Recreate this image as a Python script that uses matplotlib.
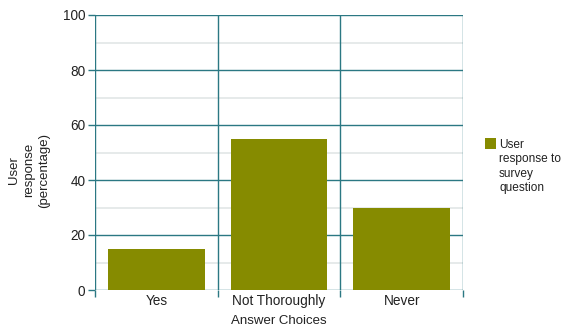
import matplotlib
matplotlib.use("Agg")
import matplotlib.pyplot as plt
from matplotlib.patches import Rectangle
import numpy as np

categories = ["Yes", "Not Thoroughly", "Never"]
values = [15, 55, 30]
series_name = "User\nresponse to\nsurvey\nquestion"
y_major = [0, 20, 40, 60, 80, 100]
y_minor = [10, 30, 50, 70, 90]

bar_color = "#868b00"
grid_color = "#2b7883"
minor_color = "#e1e6e6"
text_color = "#222222"

plt.rcParams["font.family"] = ["Liberation Sans", "DejaVu Sans"]

W, H = 572, 327
fig = plt.figure(figsize=(W / 100, H / 100), dpi=100)
ax = fig.add_axes([95 / W, 1 - 290 / H, 368 / W, 275 / H])

x = np.arange(len(categories))
ax.bar(x, values, width=0.79, color=bar_color, zorder=3)

ax.set_xlim(-0.5, len(categories) - 0.5)
ax.set_ylim(0, 100)

# horizontal grid: major teal, minor light gray
for v in y_minor:
    ax.axhline(v, color=minor_color, lw=1.2, zorder=1)
for v in y_major:
    ax.axhline(v, color=grid_color, lw=1.0, zorder=2)
# vertical separators between categories
for b in np.arange(-0.5, len(categories), 1.0):
    ax.axvline(b, color=grid_color, lw=1.0, zorder=2)

for s in ax.spines.values():
    s.set_visible(False)

ax.set_yticks(y_major)
ax.set_yticklabels([str(v) for v in y_major], fontsize=9.8, color=text_color)
ax.tick_params(axis="y", length=5, width=1.0, color=grid_color, pad=2)

ax.set_xticks(x)
ax.set_xticklabels(categories, fontsize=9.8, color=text_color)
ax.tick_params(axis="x", length=0, pad=3)
ax.set_xticks(np.arange(-0.5, len(categories), 1.0), minor=True)
ax.tick_params(axis="x", which="minor", length=5, width=1.0, color=grid_color)

ax.set_xlabel("Answer Choices", fontsize=9.5, color=text_color, labelpad=5)
ax.set_ylabel("User\nresponse\n(percentage)", fontsize=9.5, color=text_color,
              linespacing=1.35)
ax.yaxis.set_label_coords(-0.122, 0.436)

# legend: swatch plus wrapped series name
fig.patches.append(Rectangle((485 / W, 1 - 149 / H), 11 / W, 11 / H,
                             transform=fig.transFigure, facecolor=bar_color,
                             edgecolor="none"))
fig.text(499 / W, 1 - 139 / H, series_name, fontsize=8.6, color=text_color,
         va="top", ha="left", linespacing=1.25)

fig.savefig("out.png", dpi=100)
